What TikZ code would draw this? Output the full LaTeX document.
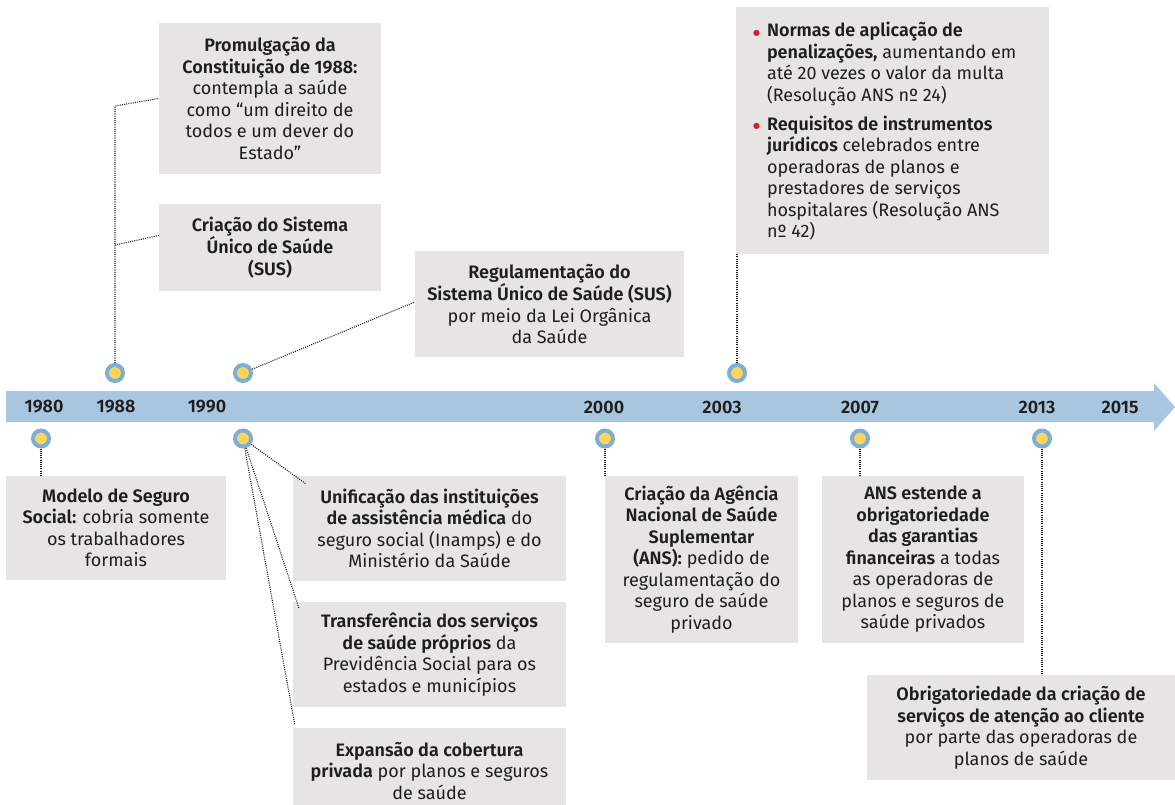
\documentclass[tikz,border=0pt]{standalone}
\usepackage{fontspec}
\setmainfont{Fira Sans}[BoldFont={Fira Sans SemiBold}]
\newfontfamily\symfont{DejaVu Sans}
\definecolor{boxgray}{HTML}{E6E5E3}
\definecolor{barblue}{HTML}{A8C6E0}
\definecolor{ringblue}{HTML}{7EADD6}
\definecolor{dotyellow}{HTML}{FCD55C}
\definecolor{txt}{HTML}{1E1E1E}
\definecolor{conncol}{HTML}{1A1A1A}
\definecolor{bulletred}{HTML}{D3202E}
\newcommand{\rb}{\leavevmode\llap{{\symfont\color{bulletred}\fontsize{8}{8}\selectfont\raisebox{1.5pt}{●}}\hspace{7pt}}}
\begin{document}
\begin{tikzpicture}[x=1pt,y=-1pt,
  box/.style={fill=boxgray, inner sep=0pt, align=center, text=txt,
    font=\fontsize{18}{21.5}\selectfont},
  boxtext/.style={inner sep=0pt, align=left, text=txt,
    font=\fontsize{18}{21.5}\selectfont},
  year/.style={text=txt, font=\fontsize{18}{20}\selectfont\bfseries, inner sep=0pt},
  dot/.style={circle, draw=ringblue, line width=4pt, fill=dotyellow, minimum size=16pt, inner sep=0pt},
  conn/.style={draw=conncol, dash pattern=on 1pt off 1.2pt, line width=1.1pt}]
\useasboundingbox (0,0) rectangle (1175,805);
\fill[white] (0,0) rectangle (1175,805);
% timeline bar
\fill[barblue] (6,391) -- (1154,391) -- (1154,383) -- (1175,407) -- (1154,431) -- (1154,422) -- (6,422) -- cycle;
\node[year] (y80) at (44,407) {1980};
\node[year] (y88) at (116,407) {1988};
\node[year] (y90) at (207,407) {1990};
\node[year] (y00) at (604,407) {2000};
\node[year] (y03) at (722,407) {2003};
\node[year] (y07) at (860,407) {2007};
\node[year] (y13) at (1037,407) {2013};
\node[year] (y15) at (1120,407) {2015};
% dots
\node[dot] (d88) at (115,373) {};
\node[dot] (d90a) at (243,373) {};
\node[dot] (d03) at (737,373) {};
\node[dot] (d80) at (41,438.5) {};
\node[dot] (d90b) at (243,438.5) {};
\node[dot] (d00) at (605,438.5) {};
\node[dot] (d07) at (860,438.5) {};
\node[dot] (d13) at (1042,438.5) {};
% boxes
\node[box, minimum width=222pt, minimum height=151pt] (prom) at (270,98.5)
  {\bfseries Promulgação da\\\bfseries Constituição de 1988:\\contempla a saúde\\como “um direito de\\todos e um dever do\\Estado”};
\node[box, minimum width=222pt, minimum height=87pt] (sus) at (270,247.5)
  {\bfseries Criação do Sistema\\\bfseries Único de Saúde\\\bfseries (SUS)};
\node[box, minimum width=269pt, minimum height=106pt] (reg) at (549.5,304)
  {\bfseries Regulamentação do\\\bfseries Sistema Único de Saúde (SUS)\\por meio da Lei Orgânica\\da Saúde};
\node[box, minimum width=313pt, minimum height=247pt] (n03) at (892.5,130.5) {};
\node[boxtext, anchor=west] (n03t) at ([xshift=31pt,yshift=-1pt]n03.west)
  {\rb\textbf{Normas de aplicação de}\\\textbf{penalizações,} aumentando em\\até 20 vezes o valor da multa\\(Resolução ANS nº 24)\\[7.5pt]%
   \rb\textbf{Requisitos de instrumentos}\\\textbf{jurídicos} celebrados entre\\operadoras de planos e\\prestadores de serviços\\hospitalares (Resolução ANS\\nº 42)};
\node[box, minimum width=220pt, minimum height=104pt] (mod) at (116,528)
  {\bfseries Modelo de Seguro\\\textbf{Social:} cobria somente\\os trabalhadores\\formais};
\node[box, minimum width=273pt, minimum height=105pt] (unif) at (429.5,528.5)
  {\bfseries Unificação das instituições\\\textbf{de assistência médica} do\\seguro social (Inamps) e do\\Ministério da Saúde};
\node[box, minimum width=273pt, minimum height=105pt] (tr) at (429.5,654.5)
  {\bfseries Transferência dos serviços\\\textbf{de saúde próprios} da\\Previdência Social para os\\estados e municípios};
\node[box, minimum width=273pt, minimum height=86pt] (exp) at (429.5,771)
  {\bfseries Expansão da cobertura\\\textbf{privada} por planos e seguros\\de saúde};
\node[box, minimum width=193pt, minimum height=167pt] (ans) at (701.5,559.5)
  {\bfseries Criação da Agência\\\bfseries Nacional de Saúde\\\bfseries Suplementar\\\textbf{(ANS):} pedido de\\regulamentação do\\seguro de saúde\\privado};
\node[box, minimum width=202pt, minimum height=167pt] (g07) at (923,559.5)
  {\bfseries ANS estende a\\\bfseries obrigatoriedade\\\bfseries das garantias\\\textbf{financeiras} a todas\\as operadoras de\\planos e seguros de\\saúde privados};
\node[box, minimum width=308pt, minimum height=105pt] (o13) at (1021,727.5)
  {\bfseries Obrigatoriedade da criação de\\\bfseries serviços de atenção ao cliente\\por parte das operadoras de\\planos de saúde};
% connectors
\coordinate (k1) at (115,106);
\coordinate (k2) at (115,245);
\draw[conn] (d88) -- (k1) -- (prom.west);
\draw[conn] (k2) -- ([yshift=12pt]sus.west);
\draw[conn] (d90a) -- ([yshift=2pt]reg.west);
\draw[conn] (d80) -- (d80 |- mod.north);
\draw[conn] (d90b) -- ([xshift=13pt,yshift=-8pt]unif.north west);
\draw[conn] (d90b) -- ([xshift=6pt,yshift=-6pt]tr.north west);
\draw[conn] (d90b) -- ([xshift=2pt,yshift=3pt]exp.north west);
\draw[conn] (d00) -- (d00 |- ans.north);
\draw[conn] (d03) -- (d03 |- n03.south);
\draw[conn] (d07) -- (d07 |- g07.north);
\draw[conn] (d13) -- (d13 |- o13.north);
\end{tikzpicture}
\end{document}
